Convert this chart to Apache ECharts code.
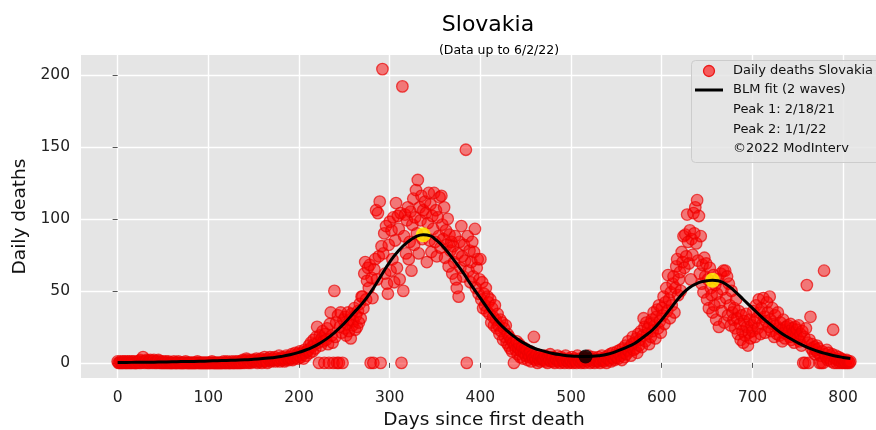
<!DOCTYPE html>
<html>
<head>
<meta charset="utf-8">
<script src="https://cdn.jsdelivr.net/npm/echarts@6/dist/echarts.min.js"></script>
<style>
  html, body { margin: 0; padding: 0; background: #fff; }
  #chart { width: 876px; height: 430px; }
</style>
</head>
<body>
<div id="chart"></div>
<script>
// Daily reported deaths, one value per day starting at day 0 (first death)
const dailyDeaths = [
  1,0,0,1,0,0,1,0,1,0,        // 0
  0,1,0,1,0,0,1,0,1,0,        // 10
  0,0,1,1,0,2,0,1,4,1,        // 20
  0,1,2,0,1,0,2,1,0,1,        // 30
  2,0,1,0,1,2,0,1,0,0,        // 40
  1,0,0,1,0,0,1,0,0,0,        // 50
  0,0,1,0,0,0,0,1,0,0,        // 60
  0,0,0,0,0,1,0,0,0,0,        // 70
  0,0,0,0,0,0,0,0,1,0,        // 80
  0,0,0,0,0,0,0,0,0,0,        // 90
  0,0,0,0,1,0,0,0,0,0,        // 100
  0,0,0,0,0,0,0,1,0,0,        // 110
  0,1,0,0,0,0,1,0,0,0,        // 120
  1,0,0,1,0,0,1,0,2,1,        // 130
  0,1,3,2,0,1,1,0,2,1,        // 140
  1,2,1,3,0,1,2,1,3,0,        // 150
  2,1,4,2,1,0,3,2,4,1,        // 160
  2,3,2,4,1,2,3,2,5,1,        // 170
  3,2,4,3,1,2,5,3,4,2,        // 180
  4,3,6,2,5,3,7,4,6,3,        // 190
  5,8,4,7,6,3,9,7,5,8,        // 200
  9,12,7,14,11,8,16,13,10,18, // 210
  25,14,0,19,12,17,22,15,0,20,   // 220
  16,24,13,0,27,35,19,14,0,50,   // 230
  18,28,0,33,0,25,35,21,0,30,    // 240
  24,32,19,27,35,22,30,17,34,26, // 250
  29,38,23,33,25,36,28,41,31,46, // 260
  46,38,62,70,44,57,66,52,68,0,  // 270
  59,45,0,65,72,106,58,104,74,112,   // 280
  0,81,204,76,90,62,95,55,48,82,     // 290
  98,64,92,72,101,56,85,111,66,102,  // 300
  93,58,104,0,192,50,88,103,76,99,   // 310
  108,72,84,105,64,96,114,82,101,120, // 320
  90,127,76,108,99,116,86,106,89,112, // 330
  104,70,97,118,85,110,77,102,93,118, // 340
  84,106,74,101,88,115,80,116,96,86,  // 350
  108,73,92,82,100,67,89,78,84,62,    // 360
  81,70,88,58,52,76,46,84,66,95,      // 370
  74,60,82,71,148,0,88,64,78,56,      // 380
  70,84,60,77,93,52,66,72,48,58,      // 390
  72,44,56,38,48,40,52,36,46,42,      // 400
  34,44,28,38,32,26,40,30,24,34,      // 410
  26,20,30,22,28,16,24,18,26,14,      // 420
  20,12,18,10,16,8,14,0,12,9,         // 430
  15,6,10,13,4,8,11,3,7,10,           // 440
  5,9,2,6,4,8,1,5,3,18,               // 450
  4,2,6,0,3,5,1,4,2,3,                // 460
  2,5,1,3,0,4,2,6,1,3,                // 470
  4,1,0,3,2,5,1,2,0,4,                // 480
  3,1,2,0,5,2,1,3,0,2,                // 490
  1,4,0,2,3,1,0,5,2,1,                // 500
  3,0,2,1,4,0,3,2,1,5,                // 510
  2,0,3,1,4,2,0,3,1,2,                // 520
  4,1,0,2,5,3,1,2,4,0,                // 530
  3,5,2,6,1,4,7,3,2,5,                // 540
  4,8,3,6,9,5,2,10,7,4,               // 550
  12,6,9,15,8,11,5,13,18,9,           // 560
  14,10,17,7,20,12,16,22,11,19,       // 570
  31,25,15,28,20,24,13,27,18,30,      // 580
  22,35,26,17,32,37,24,40,29,21,      // 590
  38,33,46,27,42,52,36,61,44,31,      // 600
  49,40,55,60,35,52,67,72,47,58,      // 610
  63,50,77,70,88,66,89,74,103,84,     // 620
  69,92,58,86,75,104,90,108,83,113,   // 630
  71,102,62,88,55,68,49,73,60,69,     // 640
  44,58,38,66,52,47,35,61,40,54,      // 650
  30,48,58,25,42,62,36,51,64,28,      // 660
  64,45,60,33,55,40,26,50,35,30,      // 670
  38,24,44,31,20,36,27,16,33,22,      // 680
  14,29,19,34,25,12,21,30,17,26,      // 690
  22,36,28,18,40,31,24,44,35,20,      // 700
  38,27,45,32,21,29,42,35,25,46,      // 710
  30,22,38,27,18,33,26,20,35,24,      // 720
  19,28,23,15,30,21,17,25,20,26,      // 730
  22,18,27,16,24,21,14,25,19,23,      // 740
  17,26,15,20,12,22,0,18,0,24,        // 750
  54,14,0,16,32,10,13,8,11,6,         // 760
  9,12,7,10,0,5,0,8,0,64,             // 770
  6,4,9,2,7,3,5,1,6,23,               // 780
  0,3,5,0,2,4,0,1,3,0,                // 790
  2,0,1,0,2,0,1,0,1                   // 800
];

// BLM two-wave fit, sampled along the day axis
const fitDays = [0,10,20,30,40,50,60,70,80,90,100,110,120,130,140,150,160,170,180,190,
  200,210,220,230,240,250,260,270,280,290,300,310,320,330,337,345,350,360,370,380,390,
  400,410,420,430,440,450,460,470,480,490,500,510,516,520,530,540,550,560,570,580,590,
  600,610,620,630,640,650,656,662,670,680,690,700,710,720,730,740,750,760,770,780,790,800,808];
const fitValues = [0.3,0.3,0.4,0.4,0.5,0.6,0.7,0.9,1.0,1.1,1.3,1.5,1.7,1.9,2.1,2.5,3.0,3.6,4.4,5.6,
  7.3,9.5,12.5,16.5,21.5,27.5,34.5,41.5,50,60,70,78,84,88,89,88.2,86,80,72,63.5,54,
  45,36,28,22,17,13,10,8.2,6.5,5.5,4.8,4.5,4.4,4.5,5,6,8,10.5,13.5,18,23,
  30,38,46,52,55.5,57,57.4,57,55,50,44,38,32,26.5,21.5,17.5,14,11,8.5,6.6,5,3.8,3.1];

// Wave peaks and the trough between them
const peakDays = [337, 656];
const peakValues = [89, 57.4];
const troughDays = [516];
const troughValues = [4.4];

// Axis ticks and legend texts
const xTicks = [0,100,200,300,400,500,600,700,800];
const yTicks = [0,50,100,150,200];
const legendLines = ['Daily deaths Slovakia', 'BLM fit (2 waves)', 'Peak 1: 2/18/21', 'Peak 2: 1/1/22', '\u00a92022 ModInterv'];

const FONT = 'DejaVu Sans';

const scatterData = dailyDeaths.map((v, i) => [i, v]);
const fitData = fitDays.map((d, i) => [d, fitValues[i]]);
const peakData = peakDays.map((d, i) => [d, peakValues[i]]);
const troughData = troughDays.map((d, i) => [d, troughValues[i]]);

const chart = echarts.init(document.getElementById('chart'), null, { renderer: 'canvas' });

const legendX = 691, legendY = 60;
const rowYs = [71, 90, 110, 130, 149];

chart.setOption({
  animation: false,
  backgroundColor: '#ffffff',
  title: [
    {
      text: 'Slovakia', left: 483, top: 9, textAlign: 'center',
      textStyle: { fontFamily: FONT, fontSize: 22, fontWeight: 'normal', color: '#000' }
    },
    {
      text: '(Data up to 6/2/22)', left: 494, top: 39, textAlign: 'center',
      textStyle: { fontFamily: FONT, fontSize: 12.5, fontWeight: 'normal', color: '#000' }
    }
  ],
  grid: {
    left: 81, right: -11, top: 55, bottom: 52,
    outerBoundsMode: 'none', containLabel: false,
    show: true, backgroundColor: '#e5e5e5', borderWidth: 0
  },
  xAxis: {
    type: 'value', min: -40.4, max: 848.4,
    name: 'Days since first death', nameLocation: 'middle', nameGap: 32,
    nameTextStyle: { fontFamily: FONT, fontSize: 18.5, color: '#111' },
    axisLine: { show: false },
    axisTick: { show: true, length: 5, customValues: xTicks, lineStyle: { color: '#555', width: 1 } },
    axisLabel: { customValues: xTicks, margin: 12, fontFamily: FONT, fontSize: 15.5, color: '#222' },
    splitLine: { show: true, lineStyle: { color: '#ffffff', width: 1.4 } }
  },
  yAxis: {
    type: 'value', min: -10.5, max: 213.8,
    name: 'Daily deaths', nameLocation: 'middle', nameGap: 48, nameRotate: 90,
    nameTextStyle: { fontFamily: FONT, fontSize: 18.5, color: '#111' },
    axisLine: { show: false },
    axisTick: { show: true, length: 5, customValues: yTicks, lineStyle: { color: '#555', width: 1 } },
    axisLabel: { customValues: yTicks, margin: 11, fontFamily: FONT, fontSize: 15.5, color: '#222' },
    splitLine: { show: true, lineStyle: { color: '#ffffff', width: 1.4 } }
  },
  series: [
    {
      name: legendLines[0], type: 'scatter', data: scatterData,
      symbol: 'circle', symbolSize: 11.5,
      itemStyle: { color: 'rgba(255,0,0,0.6)', borderColor: 'rgba(235,0,0,0.85)', borderWidth: 1.3 },
      emphasis: { disabled: true }
    },
    {
      name: legendLines[1], type: 'line', data: fitData, smooth: true, showSymbol: false,
      lineStyle: { color: '#000', width: 3 }, emphasis: { disabled: true }
    },
    {
      name: 'peaks', type: 'scatter', data: peakData, symbol: 'circle', symbolSize: 15,
      itemStyle: { color: '#ffff00', borderWidth: 0 }, emphasis: { disabled: true }
    },
    {
      name: 'trough', type: 'scatter', data: troughData, symbol: 'circle', symbolSize: 14,
      itemStyle: { color: '#000', borderWidth: 0 }, emphasis: { disabled: true }
    }
  ],
  graphic: [
    {
      type: 'rect', left: legendX, top: legendY, z: 100,
      shape: { width: 200, height: 102, r: 4 },
      style: { fill: 'rgba(229,229,229,0.85)', stroke: '#cccccc', lineWidth: 1 }
    },
    {
      type: 'circle', z: 101, shape: { cx: 709, cy: rowYs[0], r: 5.5 },
      style: { fill: 'rgba(255,0,0,0.6)', stroke: 'rgba(235,0,0,0.85)', lineWidth: 1.3 }
    },
    {
      type: 'line', z: 101, shape: { x1: 695, y1: rowYs[1], x2: 723, y2: rowYs[1] },
      style: { stroke: '#000', lineWidth: 3 }
    }
  ].concat(legendLines.map((t, i) => ({
    type: 'text', z: 101, x: 733, y: rowYs[i],
    style: { text: t, fontFamily: FONT, fontSize: 13, fill: '#111', textVerticalAlign: 'middle', verticalAlign: 'middle' }
  })))
});
</script>
</body>
</html>
